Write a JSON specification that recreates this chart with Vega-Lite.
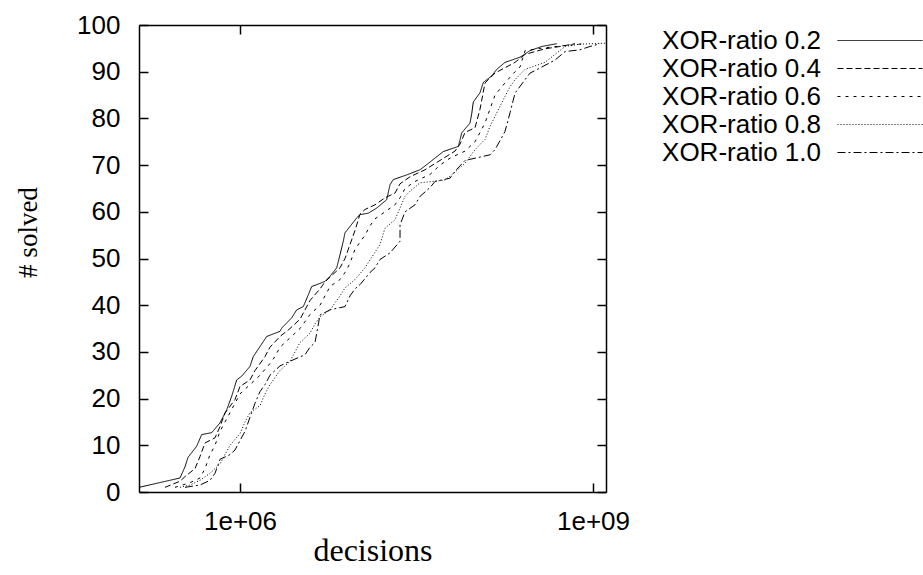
{
 "$schema": "https://vega.github.io/schema/vega-lite/v6.json",
 "width": 467, "height": 467,
 "autosize": {"type": "none"},
 "padding": {"left": 139, "top": 25, "right": 317, "bottom": 83},
 "background": "white",
 "config": {"view": {"stroke": null}, "axis": {"grid": false, "domainColor": "black", "domainWidth": 1.5, "tickColor": "black", "tickWidth": 1.5, "tickSize": -9, "labelFont": "Liberation Sans", "labelFontSize": 26, "labelColor": "black", "titleFont": "Liberation Serif", "titleFontWeight": "normal", "titleColor": "black", "labelFlush": false, "labelOverlap": false}},
 "data": {"values": [
{"series":"XOR-ratio 0.2","decisions":1.39e5,"solved":1},{"series":"XOR-ratio 0.2","decisions":3.091e5,"solved":3},{"series":"XOR-ratio 0.2","decisions":3.410e5,"solved":5.4},{"series":"XOR-ratio 0.2","decisions":3.614e5,"solved":7.4},{"series":"XOR-ratio 0.2","decisions":4.286e5,"solved":9.8},{"series":"XOR-ratio 0.2","decisions":4.727e5,"solved":12.3},{"series":"XOR-ratio 0.2","decisions":5.747e5,"solved":12.7},{"series":"XOR-ratio 0.2","decisions":6.761e5,"solved":14.8},{"series":"XOR-ratio 0.2","decisions":7.709e5,"solved":17.6},{"series":"XOR-ratio 0.2","decisions":8.501e5,"solved":20.5},{"series":"XOR-ratio 0.2","decisions":9.376e5,"solved":24},{"series":"XOR-ratio 0.2","decisions":1.034e6,"solved":24.8},{"series":"XOR-ratio 0.2","decisions":1.216e6,"solved":26.9},{"series":"XOR-ratio 0.2","decisions":1.297e6,"solved":29},{"series":"XOR-ratio 0.2","decisions":1.578e6,"solved":32.2},{"series":"XOR-ratio 0.2","decisions":1.686e6,"solved":33.3},{"series":"XOR-ratio 0.2","decisions":2.188e6,"solved":34.4},{"series":"XOR-ratio 0.2","decisions":2.262e6,"solved":35.1},{"series":"XOR-ratio 0.2","decisions":2.751e6,"solved":37.3},{"series":"XOR-ratio 0.2","decisions":3.033e6,"solved":39},{"series":"XOR-ratio 0.2","decisions":3.451e6,"solved":39.7},{"series":"XOR-ratio 0.2","decisions":3.805e6,"solved":42.2},{"series":"XOR-ratio 0.2","decisions":4.068e6,"solved":44},{"series":"XOR-ratio 0.2","decisions":4.486e6,"solved":44.4},{"series":"XOR-ratio 0.2","decisions":5.278e6,"solved":45.1},{"series":"XOR-ratio 0.2","decisions":5.819e6,"solved":46.2},{"series":"XOR-ratio 0.2","decisions":6.634e6,"solved":48},{"series":"XOR-ratio 0.2","decisions":7.077e6,"solved":50.8},{"series":"XOR-ratio 0.2","decisions":7.548e6,"solved":53.7},{"series":"XOR-ratio 0.2","decisions":7.803e6,"solved":55.5},{"series":"XOR-ratio 0.2","decisions":9.811e6,"solved":58.7},{"series":"XOR-ratio 0.2","decisions":1.047e7,"solved":59.4},{"series":"XOR-ratio 0.2","decisions":1.231e7,"solved":59.7},{"series":"XOR-ratio 0.2","decisions":1.451e7,"solved":60.8},{"series":"XOR-ratio 0.2","decisions":1.765e7,"solved":62.6},{"series":"XOR-ratio 0.2","decisions":1.882e7,"solved":65.8},{"series":"XOR-ratio 0.2","decisions":2.008e7,"solved":66.9},{"series":"XOR-ratio 0.2","decisions":2.610e7,"solved":67.9},{"series":"XOR-ratio 0.2","decisions":3.386e7,"solved":69},{"series":"XOR-ratio 0.2","decisions":3.861e7,"solved":70.1},{"series":"XOR-ratio 0.2","decisions":5.342e7,"solved":72.9},{"series":"XOR-ratio 0.2","decisions":7.165e7,"solved":74},{"series":"XOR-ratio 0.2","decisions":7.407e7,"solved":75.4},{"series":"XOR-ratio 0.2","decisions":7.658e7,"solved":76.9},{"series":"XOR-ratio 0.2","decisions":9.008e7,"solved":79},{"series":"XOR-ratio 0.2","decisions":9.314e7,"solved":81},{"series":"XOR-ratio 0.2","decisions":9.609e7,"solved":83.5},{"series":"XOR-ratio 0.2","decisions":1.095e8,"solved":85.5},{"series":"XOR-ratio 0.2","decisions":1.169e8,"solved":87.7},{"series":"XOR-ratio 0.2","decisions":1.377e8,"solved":89.1},{"series":"XOR-ratio 0.2","decisions":1.519e8,"solved":90.5},{"series":"XOR-ratio 0.2","decisions":1.787e8,"solved":92},{"series":"XOR-ratio 0.2","decisions":2.396e8,"solved":93.1},{"series":"XOR-ratio 0.2","decisions":2.913e8,"solved":94.5},{"series":"XOR-ratio 0.2","decisions":3.664e8,"solved":95.4},{"series":"XOR-ratio 0.2","decisions":4.914e8,"solved":96},
{"series":"XOR-ratio 0.4","decisions":2.305e5,"solved":1},{"series":"XOR-ratio 0.4","decisions":3.091e5,"solved":2.3},{"series":"XOR-ratio 0.4","decisions":3.409e5,"solved":3.3},{"series":"XOR-ratio 0.4","decisions":4.146e5,"solved":5},{"series":"XOR-ratio 0.4","decisions":4.572e5,"solved":7.6},{"series":"XOR-ratio 0.4","decisions":5.042e5,"solved":10.5},{"series":"XOR-ratio 0.4","decisions":6.132e5,"solved":11.6},{"series":"XOR-ratio 0.4","decisions":6.763e5,"solved":14},{"series":"XOR-ratio 0.4","decisions":7.458e5,"solved":16.9},{"series":"XOR-ratio 0.4","decisions":9.070e5,"solved":19.8},{"series":"XOR-ratio 0.4","decisions":1.0e6,"solved":22.6},{"series":"XOR-ratio 0.4","decisions":1.216e6,"solved":24},{"series":"XOR-ratio 0.4","decisions":1.341e6,"solved":26},{"series":"XOR-ratio 0.4","decisions":1.631e6,"solved":29},{"series":"XOR-ratio 0.4","decisions":1.798e6,"solved":31},{"series":"XOR-ratio 0.4","decisions":2.187e6,"solved":33.3},{"series":"XOR-ratio 0.4","decisions":2.660e6,"solved":35},{"series":"XOR-ratio 0.4","decisions":3.235e6,"solved":37},{"series":"XOR-ratio 0.4","decisions":3.568e6,"solved":39},{"series":"XOR-ratio 0.4","decisions":3.934e6,"solved":41},{"series":"XOR-ratio 0.4","decisions":4.785e6,"solved":43.5},{"series":"XOR-ratio 0.4","decisions":5.277e6,"solved":45},{"series":"XOR-ratio 0.4","decisions":5.820e6,"solved":46},{"series":"XOR-ratio 0.4","decisions":7.077e6,"solved":48},{"series":"XOR-ratio 0.4","decisions":7.805e6,"solved":50},{"series":"XOR-ratio 0.4","decisions":8.607e6,"solved":53},{"series":"XOR-ratio 0.4","decisions":9.491e6,"solved":56},{"series":"XOR-ratio 0.4","decisions":1.047e7,"solved":59.5},{"series":"XOR-ratio 0.4","decisions":1.154e7,"solved":60.5},{"series":"XOR-ratio 0.4","decisions":1.404e7,"solved":61.5},{"series":"XOR-ratio 0.4","decisions":1.707e7,"solved":63},{"series":"XOR-ratio 0.4","decisions":2.076e7,"solved":64},{"series":"XOR-ratio 0.4","decisions":2.290e7,"solved":66},{"series":"XOR-ratio 0.4","decisions":2.785e7,"solved":67.5},{"series":"XOR-ratio 0.4","decisions":3.735e7,"solved":69},{"series":"XOR-ratio 0.4","decisions":5.010e7,"solved":71},{"series":"XOR-ratio 0.4","decisions":6.719e7,"solved":73},{"series":"XOR-ratio 0.4","decisions":7.410e7,"solved":74.5},{"series":"XOR-ratio 0.4","decisions":8.172e7,"solved":77},{"series":"XOR-ratio 0.4","decisions":9.934e7,"solved":78},{"series":"XOR-ratio 0.4","decisions":1.096e8,"solved":82},{"series":"XOR-ratio 0.4","decisions":1.208e8,"solved":87.6},{"series":"XOR-ratio 0.4","decisions":1.469e8,"solved":89.7},{"series":"XOR-ratio 0.4","decisions":2.173e8,"solved":92},{"series":"XOR-ratio 0.4","decisions":2.643e8,"solved":93.7},{"series":"XOR-ratio 0.4","decisions":3.909e8,"solved":94.9},{"series":"XOR-ratio 0.4","decisions":5.243e8,"solved":95.4},{"series":"XOR-ratio 0.4","decisions":7.031e8,"solved":96},
{"series":"XOR-ratio 0.6","decisions":2.803e5,"solved":1},{"series":"XOR-ratio 0.6","decisions":3.759e5,"solved":2},{"series":"XOR-ratio 0.6","decisions":4.572e5,"solved":3},{"series":"XOR-ratio 0.6","decisions":5.042e5,"solved":5},{"series":"XOR-ratio 0.6","decisions":5.561e5,"solved":8},{"series":"XOR-ratio 0.6","decisions":6.132e5,"solved":10},{"series":"XOR-ratio 0.6","decisions":6.763e5,"solved":13},{"series":"XOR-ratio 0.6","decisions":7.458e5,"solved":15},{"series":"XOR-ratio 0.6","decisions":8.225e5,"solved":17},{"series":"XOR-ratio 0.6","decisions":9.070e5,"solved":19},{"series":"XOR-ratio 0.6","decisions":1.0e6,"solved":21},{"series":"XOR-ratio 0.6","decisions":1.216e6,"solved":23},{"series":"XOR-ratio 0.6","decisions":1.479e6,"solved":25},{"series":"XOR-ratio 0.6","decisions":1.798e6,"solved":27.5},{"series":"XOR-ratio 0.6","decisions":1.983e6,"solved":29},{"series":"XOR-ratio 0.6","decisions":2.187e6,"solved":31},{"series":"XOR-ratio 0.6","decisions":2.660e6,"solved":33},{"series":"XOR-ratio 0.6","decisions":3.235e6,"solved":35},{"series":"XOR-ratio 0.6","decisions":3.568e6,"solved":36.5},{"series":"XOR-ratio 0.6","decisions":3.934e6,"solved":38},{"series":"XOR-ratio 0.6","decisions":4.785e6,"solved":40},{"series":"XOR-ratio 0.6","decisions":5.277e6,"solved":42},{"series":"XOR-ratio 0.6","decisions":5.820e6,"solved":44},{"series":"XOR-ratio 0.6","decisions":7.077e6,"solved":45.5},{"series":"XOR-ratio 0.6","decisions":7.805e6,"solved":47},{"series":"XOR-ratio 0.6","decisions":8.607e6,"solved":49},{"series":"XOR-ratio 0.6","decisions":9.491e6,"solved":52},{"series":"XOR-ratio 0.6","decisions":1.154e7,"solved":55},{"series":"XOR-ratio 0.6","decisions":1.273e7,"solved":57},{"series":"XOR-ratio 0.6","decisions":1.404e7,"solved":58.5},{"series":"XOR-ratio 0.6","decisions":1.707e7,"solved":60},{"series":"XOR-ratio 0.6","decisions":2.076e7,"solved":61.5},{"series":"XOR-ratio 0.6","decisions":2.290e7,"solved":63},{"series":"XOR-ratio 0.6","decisions":2.525e7,"solved":65},{"series":"XOR-ratio 0.6","decisions":3.071e7,"solved":66.5},{"series":"XOR-ratio 0.6","decisions":4.119e7,"solved":68},{"series":"XOR-ratio 0.6","decisions":5.010e7,"solved":70},{"series":"XOR-ratio 0.6","decisions":6.093e7,"solved":71.5},{"series":"XOR-ratio 0.6","decisions":8.172e7,"solved":73},{"series":"XOR-ratio 0.6","decisions":9.934e7,"solved":75},{"series":"XOR-ratio 0.6","decisions":1.096e8,"solved":77},{"series":"XOR-ratio 0.6","decisions":1.208e8,"solved":79},{"series":"XOR-ratio 0.6","decisions":1.332e8,"solved":82},{"series":"XOR-ratio 0.6","decisions":1.469e8,"solved":85},{"series":"XOR-ratio 0.6","decisions":1.787e8,"solved":87.6},{"series":"XOR-ratio 0.6","decisions":2.173e8,"solved":90},{"series":"XOR-ratio 0.6","decisions":2.397e8,"solved":91},{"series":"XOR-ratio 0.6","decisions":2.643e8,"solved":94.5},{"series":"XOR-ratio 0.6","decisions":3.544e8,"solved":95},{"series":"XOR-ratio 0.6","decisions":5.243e8,"solved":95.5},{"series":"XOR-ratio 0.6","decisions":8.551e8,"solved":96},
{"series":"XOR-ratio 0.8","decisions":3.091e5,"solved":1},{"series":"XOR-ratio 0.8","decisions":3.759e5,"solved":1.5},{"series":"XOR-ratio 0.8","decisions":4.572e5,"solved":2.5},{"series":"XOR-ratio 0.8","decisions":5.561e5,"solved":4},{"series":"XOR-ratio 0.8","decisions":6.763e5,"solved":6},{"series":"XOR-ratio 0.8","decisions":7.458e5,"solved":8},{"series":"XOR-ratio 0.8","decisions":8.225e5,"solved":10},{"series":"XOR-ratio 0.8","decisions":1.0e6,"solved":12.5},{"series":"XOR-ratio 0.8","decisions":1.103e6,"solved":15},{"series":"XOR-ratio 0.8","decisions":1.216e6,"solved":17},{"series":"XOR-ratio 0.8","decisions":1.479e6,"solved":18.5},{"series":"XOR-ratio 0.8","decisions":1.631e6,"solved":21},{"series":"XOR-ratio 0.8","decisions":1.798e6,"solved":23},{"series":"XOR-ratio 0.8","decisions":1.983e6,"solved":24.5},{"series":"XOR-ratio 0.8","decisions":2.187e6,"solved":26},{"series":"XOR-ratio 0.8","decisions":2.660e6,"solved":28},{"series":"XOR-ratio 0.8","decisions":2.934e6,"solved":30},{"series":"XOR-ratio 0.8","decisions":3.235e6,"solved":32},{"series":"XOR-ratio 0.8","decisions":3.934e6,"solved":34},{"series":"XOR-ratio 0.8","decisions":4.339e6,"solved":36},{"series":"XOR-ratio 0.8","decisions":4.785e6,"solved":37.5},{"series":"XOR-ratio 0.8","decisions":5.820e6,"solved":39},{"series":"XOR-ratio 0.8","decisions":6.418e6,"solved":40.5},{"series":"XOR-ratio 0.8","decisions":7.077e6,"solved":42},{"series":"XOR-ratio 0.8","decisions":7.805e6,"solved":43.7},{"series":"XOR-ratio 0.8","decisions":9.491e6,"solved":45.5},{"series":"XOR-ratio 0.8","decisions":1.154e7,"solved":48},{"series":"XOR-ratio 0.8","decisions":1.273e7,"solved":49.7},{"series":"XOR-ratio 0.8","decisions":1.548e7,"solved":53},{"series":"XOR-ratio 0.8","decisions":1.707e7,"solved":56.5},{"series":"XOR-ratio 0.8","decisions":2.076e7,"solved":58.3},{"series":"XOR-ratio 0.8","decisions":2.525e7,"solved":63.3},{"series":"XOR-ratio 0.8","decisions":2.785e7,"solved":64.4},{"series":"XOR-ratio 0.8","decisions":3.387e7,"solved":66.2},{"series":"XOR-ratio 0.8","decisions":5.525e7,"solved":66.8},{"series":"XOR-ratio 0.8","decisions":6.719e7,"solved":68.5},{"series":"XOR-ratio 0.8","decisions":8.172e7,"solved":70.4},{"series":"XOR-ratio 0.8","decisions":9.934e7,"solved":73.3},{"series":"XOR-ratio 0.8","decisions":1.208e8,"solved":75.5},{"series":"XOR-ratio 0.8","decisions":1.332e8,"solved":78.3},{"series":"XOR-ratio 0.8","decisions":1.620e8,"solved":82.6},{"series":"XOR-ratio 0.8","decisions":1.971e8,"solved":86.8},{"series":"XOR-ratio 0.8","decisions":2.173e8,"solved":88.3},{"series":"XOR-ratio 0.8","decisions":2.643e8,"solved":90.5},{"series":"XOR-ratio 0.8","decisions":3.909e8,"solved":92},{"series":"XOR-ratio 0.8","decisions":4.754e8,"solved":93.7},{"series":"XOR-ratio 0.8","decisions":5.781e8,"solved":95.4},{"series":"XOR-ratio 0.8","decisions":7.754e8,"solved":95.9},{"series":"XOR-ratio 0.8","decisions":1.265e9,"solved":96.1},
{"series":"XOR-ratio 1.0","decisions":3.409e5,"solved":1},{"series":"XOR-ratio 1.0","decisions":4.572e5,"solved":1.5},{"series":"XOR-ratio 1.0","decisions":5.561e5,"solved":2.5},{"series":"XOR-ratio 1.0","decisions":6.132e5,"solved":4},{"series":"XOR-ratio 1.0","decisions":6.763e5,"solved":7},{"series":"XOR-ratio 1.0","decisions":8.225e5,"solved":8},{"series":"XOR-ratio 1.0","decisions":9.070e5,"solved":9},{"series":"XOR-ratio 1.0","decisions":1.0e6,"solved":11},{"series":"XOR-ratio 1.0","decisions":1.103e6,"solved":13},{"series":"XOR-ratio 1.0","decisions":1.216e6,"solved":16},{"series":"XOR-ratio 1.0","decisions":1.341e6,"solved":19},{"series":"XOR-ratio 1.0","decisions":1.479e6,"solved":21.5},{"series":"XOR-ratio 1.0","decisions":1.631e6,"solved":23},{"series":"XOR-ratio 1.0","decisions":1.798e6,"solved":25},{"series":"XOR-ratio 1.0","decisions":2.187e6,"solved":27},{"series":"XOR-ratio 1.0","decisions":2.660e6,"solved":28},{"series":"XOR-ratio 1.0","decisions":3.568e6,"solved":29.4},{"series":"XOR-ratio 1.0","decisions":3.934e6,"solved":31},{"series":"XOR-ratio 1.0","decisions":4.339e6,"solved":32},{"series":"XOR-ratio 1.0","decisions":4.785e6,"solved":37.9},{"series":"XOR-ratio 1.0","decisions":5.820e6,"solved":39},{"series":"XOR-ratio 1.0","decisions":7.805e6,"solved":39.7},{"series":"XOR-ratio 1.0","decisions":8.607e6,"solved":42},{"series":"XOR-ratio 1.0","decisions":9.491e6,"solved":43.5},{"series":"XOR-ratio 1.0","decisions":1.047e7,"solved":44.4},{"series":"XOR-ratio 1.0","decisions":1.273e7,"solved":47},{"series":"XOR-ratio 1.0","decisions":1.404e7,"solved":48},{"series":"XOR-ratio 1.0","decisions":1.548e7,"solved":49.8},{"series":"XOR-ratio 1.0","decisions":1.883e7,"solved":51.2},{"series":"XOR-ratio 1.0","decisions":2.290e7,"solved":53.7},{"series":"XOR-ratio 1.0","decisions":2.291e7,"solved":57.2},{"series":"XOR-ratio 1.0","decisions":2.525e7,"solved":60},{"series":"XOR-ratio 1.0","decisions":3.071e7,"solved":61.5},{"series":"XOR-ratio 1.0","decisions":3.387e7,"solved":63.3},{"series":"XOR-ratio 1.0","decisions":4.119e7,"solved":65.2},{"series":"XOR-ratio 1.0","decisions":4.543e7,"solved":66.5},{"series":"XOR-ratio 1.0","decisions":6.093e7,"solved":67.2},{"series":"XOR-ratio 1.0","decisions":6.719e7,"solved":68.7},{"series":"XOR-ratio 1.0","decisions":8.172e7,"solved":71},{"series":"XOR-ratio 1.0","decisions":1.332e8,"solved":72.2},{"series":"XOR-ratio 1.0","decisions":1.469e8,"solved":73.3},{"series":"XOR-ratio 1.0","decisions":1.787e8,"solved":77.2},{"series":"XOR-ratio 1.0","decisions":1.971e8,"solved":81.2},{"series":"XOR-ratio 1.0","decisions":2.173e8,"solved":85.4},{"series":"XOR-ratio 1.0","decisions":2.643e8,"solved":88.3},{"series":"XOR-ratio 1.0","decisions":2.915e8,"solved":89.7},{"series":"XOR-ratio 1.0","decisions":3.544e8,"solved":90.8},{"series":"XOR-ratio 1.0","decisions":4.754e8,"solved":92.5},{"series":"XOR-ratio 1.0","decisions":5.781e8,"solved":94.3},{"series":"XOR-ratio 1.0","decisions":7.754e8,"solved":94.7},{"series":"XOR-ratio 1.0","decisions":9.431e8,"solved":95.4},{"series":"XOR-ratio 1.0","decisions":1.147e9,"solved":96}
 ]},
 "layer": [
  {
   "mark": {"type": "line", "color": "black", "strokeWidth": 1, "clip": true},
   "encoding": {
    "x": {"field": "decisions", "type": "quantitative",
      "scale": {"type": "log", "domain": [138600, 1289000000], "nice": false},
      "axis": {"orient": "bottom", "values": [1000000, 1000000000], "labelExpr": "datum.value < 1e7 ? '1e+06' : '1e+09'", "labelPadding": 25, "title": "decisions", "titleFontSize": 32, "titleX": 233.5, "titleY": 58, "titleBaseline": "middle", "titleAlign": "center"}},
    "y": {"field": "solved", "type": "quantitative",
      "scale": {"domain": [0, 100], "nice": false},
      "axis": {"orient": "left", "values": [0,10,20,30,40,50,60,70,80,90,100], "labelPadding": 28, "title": "# solved", "titleFontSize": 27, "titleX": -111, "titleY": 207, "titleAngle": -90, "titleBaseline": "middle", "titleAlign": "center"}},
    "strokeDash": {"field": "series", "type": "nominal",
      "scale": {"domain": ["XOR-ratio 0.2","XOR-ratio 0.4","XOR-ratio 0.6","XOR-ratio 0.8","XOR-ratio 1.0"], "range": [[1,0],[6,3],[3,5],[1,2],[8,3,2,3]]},
      "legend": {"title": null, "orient": "none", "legendX": 728, "legendY": 2.5, "symbolType": "M-8,0H8", "symbolSize": 113, "symbolStrokeWidth": 1, "symbolStrokeColor": "black", "symbolFillColor": "transparent", "labelFont": "Liberation Sans", "labelFontSize": 26, "labelColor": "black", "labelAlign": "right", "labelOffset": -72, "rowPadding": 2, "padding": 0, "labelLimit": 400}},
    "order": {"field": "solved", "type": "quantitative"}
   }
  },
  {
   "mark": {"type": "point", "opacity": 0},
   "encoding": {
    "x": {"field": "decisions", "type": "quantitative",
      "scale": {"type": "log", "domain": [138600, 1289000000], "nice": false},
      "axis": {"orient": "top", "values": [1000000, 1000000000], "labels": false, "title": null}},
    "y": {"field": "solved", "type": "quantitative",
      "scale": {"domain": [0, 100], "nice": false},
      "axis": {"orient": "right", "values": [0,10,20,30,40,50,60,70,80,90,100], "labels": false, "title": null}}
   }
  }
 ],
 "resolve": {"axis": {"x": "independent", "y": "independent"}}
}
